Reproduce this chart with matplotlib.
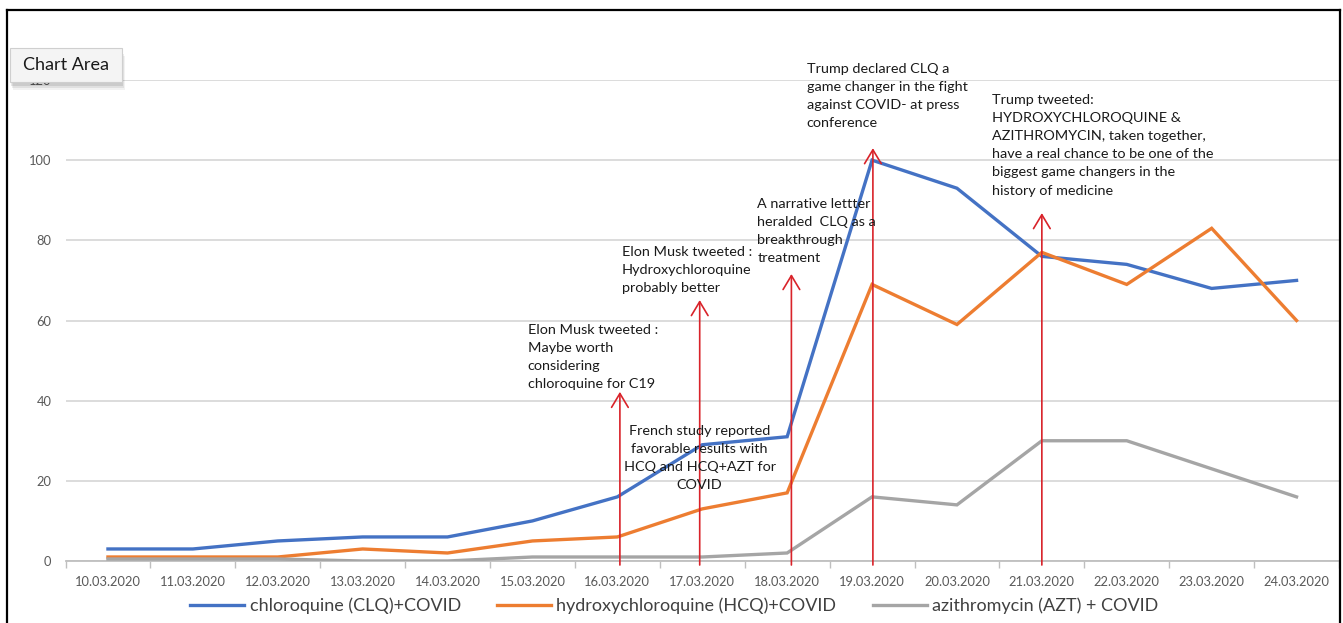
import matplotlib
matplotlib.use("Agg")
import matplotlib.pyplot as plt
from matplotlib.lines import Line2D
from matplotlib.patches import FancyBboxPatch

# data
dates = ["10.03.2020", "11.03.2020", "12.03.2020", "13.03.2020", "14.03.2020",
         "15.03.2020", "16.03.2020", "17.03.2020", "18.03.2020", "19.03.2020",
         "20.03.2020", "21.03.2020", "22.03.2020", "23.03.2020", "24.03.2020"]
clq = [3, 3, 5, 6, 6, 10, 16, 29, 31, 100, 93, 76, 74, 68, 70]
hcq = [1, 1, 1, 3, 2, 5, 6, 13, 17, 69, 59, 77, 69, 83, 60]
azt = [0.5, 0.5, 0.5, 0, 0, 1, 1, 1, 2, 16, 14, 30, 30, 23, 16]
series_names = ["chloroquine (CLQ)+COVID", "hydroxychloroquine (HCQ)+COVID",
                "azithromycin (AZT) + COVID"]
y_ticks = [0, 20, 40, 60, 80, 100, 120]

# red event arrows: x position (category index), arrow tip value
arrow_x = [6.03, 6.97, 8.05, 9.01, 11.0]
arrow_top = [42.2, 65.1, 71.6, 103, 86.8]

notes = [
    "Elon Musk tweeted :\nMaybe worth\nconsidering\nchloroquine for C19",
    "French study reported\nfavorable results with\nHCQ and HCQ+AZT for\nCOVID",
    "Elon Musk tweeted :\nHydroxychloroquine\nprobably better",
    "A narrative lettter\nheralded  CLQ as a\nbreakthrough\ntreatment",
    "Trump declared CLQ a\ngame changer in the fight\nagainst COVID- at press\nconference",
    "Trump tweeted:\nHYDROXYCHLOROQUINE &\nAZITHROMYCIN, taken together,\n"
    "have a real chance to be one of the\nbiggest game changers in the\nhistory of medicine",
]
note_x = [4.945, 6.97, 6.05, 7.65, 8.23, 10.41]
note_y = [59.2, 34.0, 78.6, 90.6, 124.3, 116.6]
note_ha = ["left", "center", "left", "left", "left", "left"]

W, H = 1343, 623
fig = plt.figure(figsize=(W / 100, H / 100), dpi=100)
fig.patch.set_facecolor("white")
plt.rcParams["font.family"] = ["Lato", "DejaVu Sans"]

ax = fig.add_axes([65.5 / W, 62 / H, 1273.5 / W, 481 / H])
x = list(range(len(dates)))

colors = ["#4472C4", "#ED7D31", "#A5A5A5"]
for vals, name, c in zip([clq, hcq, azt], series_names, colors):
    ax.plot(x, vals, color=c, lw=2.4, label=name, solid_joinstyle="miter",
            zorder=3)

for ax_x, top in zip(arrow_x, arrow_top):
    ax.annotate("", xy=(ax_x, top), xytext=(ax_x, -1.0),
                arrowprops=dict(arrowstyle="->,head_length=0.5,head_width=0.3",
                                color="#D9232A", lw=1.2, mutation_scale=20,
                                shrinkA=0, shrinkB=0),
                annotation_clip=False, zorder=4)

for txt, nx, ny, ha in zip(notes, note_x, note_y, note_ha):
    ax.text(nx, ny, txt, ha=ha, va="top", fontsize=10.4, color="#1a1a1a",
            linespacing=1.62, multialignment=ha, zorder=5, clip_on=False)

ax.set_xlim(-0.5, len(dates) - 0.5)
ax.set_ylim(0, 120)
ax.set_yticks(y_ticks)
ax.set_yticklabels([str(v) for v in y_ticks])
ax.set_xticks(x)
ax.set_xticklabels(dates)
ax.set_xticks([i - 0.5 for i in range(len(dates) + 1)], minor=True)
ax.tick_params(axis="x", which="major", length=0, pad=11, labelsize=9.3,
               labelcolor="#595959")
ax.tick_params(axis="x", which="minor", length=5, color="#BFBFBF", width=1)
ax.tick_params(axis="y", length=0, pad=10, labelsize=9.3, labelcolor="#595959")
ax.grid(axis="y", color="#D9D9D9", lw=1.3)
ax.set_axisbelow(True)
for side in ["top", "right", "left"]:
    ax.spines[side].set_visible(False)
ax.spines["bottom"].set_color("#BFBFBF")
ax.spines["bottom"].set_linewidth(1.3)

fig.legend(loc="center", bbox_to_anchor=(0.502, 0.027), ncol=3, frameon=False,
           fontsize=13, handlelength=3.0, handletextpad=0.3, columnspacing=2.0,
           labelcolor="#404040")

# "Chart Area" tooltip with a soft shadow
for off, alpha in [(6, 0.05), (4, 0.07), (2, 0.09)]:
    fig.add_artist(FancyBboxPatch(((10 + off / 2) / W, 1 - (84 + off) / H),
                                  112 / W, 34 / H, boxstyle="square,pad=0",
                                  fc="black", ec="none", alpha=alpha,
                                  transform=fig.transFigure))
fig.add_artist(FancyBboxPatch((10 / W, 1 - 82 / H), 112 / W, 34 / H,
                              boxstyle="square,pad=0", fc="#F4F4F4",
                              ec="#CFCFCF", lw=0.8, transform=fig.transFigure))
fig.text(66 / W, 1 - 65 / H, "Chart Area", fontsize=13, color="#1a1a1a",
         va="center", ha="center")

# outer frame (top, left, right)
for xs, ys in [([7, 1340], [10, 10]), ([7, 7], [10, 623]),
               ([1340, 1340], [10, 623])]:
    fig.add_artist(Line2D([v / W for v in xs], [1 - v / H for v in ys],
                          color="black", lw=1.6))

fig.savefig("out.png", dpi=100)
